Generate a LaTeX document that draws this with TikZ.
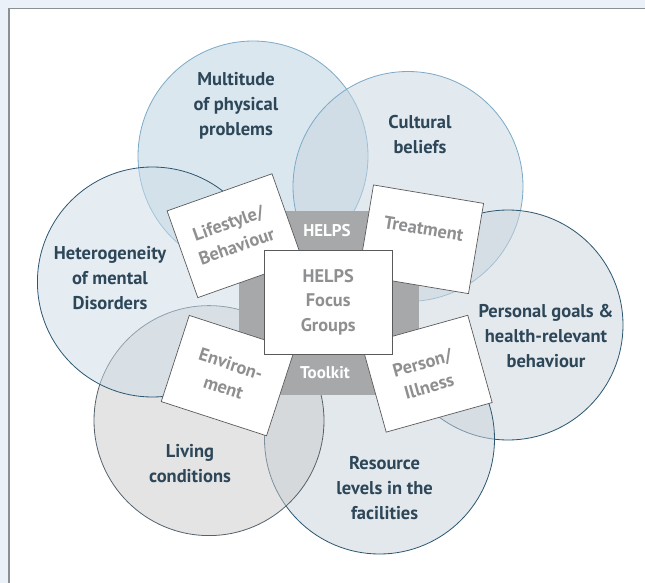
\documentclass[tikz,border=0pt]{standalone}
\usepackage{fontspec}
\setmainfont{PT Sans}
\definecolor{bgblue}{HTML}{EAF1F8}
\definecolor{framegray}{HTML}{8A9096}
\definecolor{hexgray}{HTML}{A7A8AA}
\definecolor{cardline}{HTML}{5A5A5A}
\definecolor{cardtext}{HTML}{8E8F91}
\definecolor{labeltext}{HTML}{2D4759}
\definecolor{lightedge}{HTML}{7BAAC6}
\definecolor{darkedge}{HTML}{2D5670}
\definecolor{grayedge}{HTML}{55626C}
\definecolor{fmult}{RGB}{185,209,225}
\definecolor{fcult}{RGB}{199,213,225}
\definecolor{fpers}{RGB}{203,213,221}
\definecolor{fres}{RGB}{201,211,219}
\definecolor{fliv}{RGB}{203,203,203}
\definecolor{fhet}{RGB}{205,221,233}
\tikzset{
  circ/.style={circle, minimum size=230pt, inner sep=0pt, fill opacity=0.5, draw opacity=1, line width=0.8pt},
  circlabel/.style={align=center, text=labeltext, font=\bfseries\fontsize{18.5}{25}\selectfont},
  card/.style={rectangle, draw=cardline, fill=white, line width=0.7pt, inner sep=0pt},
  cardlabel/.style={align=center, text=cardtext, font=\bfseries\fontsize{18.3}{24.5}\selectfont},
  hexlabel/.style={text=white, font=\bfseries\fontsize{17}{20}\selectfont}
}
\begin{document}
\begin{tikzpicture}[x=1pt,y=-1pt]
\useasboundingbox (0,0) rectangle (645,583);
\fill[bgblue] (0,0) rectangle (645,583);
\fill[white] (8,8) rectangle (645,583);
\draw[framegray, line width=1.5pt] (8.75,583) -- (8.75,8.75) -- (645,8.75);

% circles
\node[circ, fill=fmult, draw=lightedge] (cmult) at (253,156) {};
\node[circ, fill=fcult, draw=lightedge] (ccult) at (408,186.5) {};
\node[circ, fill=fpers, draw=darkedge] (cpers) at (508,325) {};
\node[circ, fill=fres, draw=darkedge] (cres) at (379.5,439) {};
\node[circ, fill=fliv, draw=grayedge] (cliv) at (209,420.6) {};
\node[circ, fill=fhet, draw=darkedge] (chet) at (152.4,282) {};

% circle labels
\node[circlabel] (lmult) at (236,106) {Multitude\\of physical\\problems};
\node[circlabel] (lcult) at (420,135) {Cultural\\beliefs};
\node[circlabel] (lhet) at (110,278) {Heterogeneity\\of mental\\Disorders};
\node[circlabel] (lpers) at (546,336.5) {Personal goals \&\\health-relevant\\behaviour};
\node[circlabel] (lliv) at (190,463.5) {Living\\conditions};
\node[circlabel] (lres) at (384.6,488) {Resource\\levels in the\\facilities};

% gray hexagon body
\fill[hexgray] (238.6,210.5) rectangle (419,395.3);

% cards
\node[card, minimum width=111.3pt, minimum height=92pt, rotate=19.5] (life) at (234.9,235.7) {};
\node[card, minimum width=111.6pt, minimum height=91.5pt, rotate=-9.5] (treat) at (421,239.3) {};
\node[card, minimum width=110pt, minimum height=90.6pt, rotate=15.6] (pers) at (427,373.7) {};
\node[card, minimum width=110.7pt, minimum height=90.6pt, rotate=-18] (env) at (227.9,375.6) {};

\node[cardlabel, rotate=19.5] (tlife) at (232.5,234.5) {Lifestyle/\\Behaviour};
\node[cardlabel, rotate=-9.5] (ttreat) at (423.7,228.7) {Treatment};
\node[cardlabel, rotate=15.6] (tpers) at (425.7,374.7) {Person/\\Illness};
\node[cardlabel, rotate=-18] (tenv) at (227.3,375.6) {Environ-\\ment};

% center box
\node[card, minimum width=127.5pt, minimum height=104.4pt, cardlabel, align=center] (center) at (328.2,302.2) {HELPS\\Focus\\Groups};

\node[hexlabel] (thelps) at (327,230.6) {HELPS};
\node[hexlabel] (ttool) at (325,372.5) {Toolkit};
\end{tikzpicture}
\end{document}
